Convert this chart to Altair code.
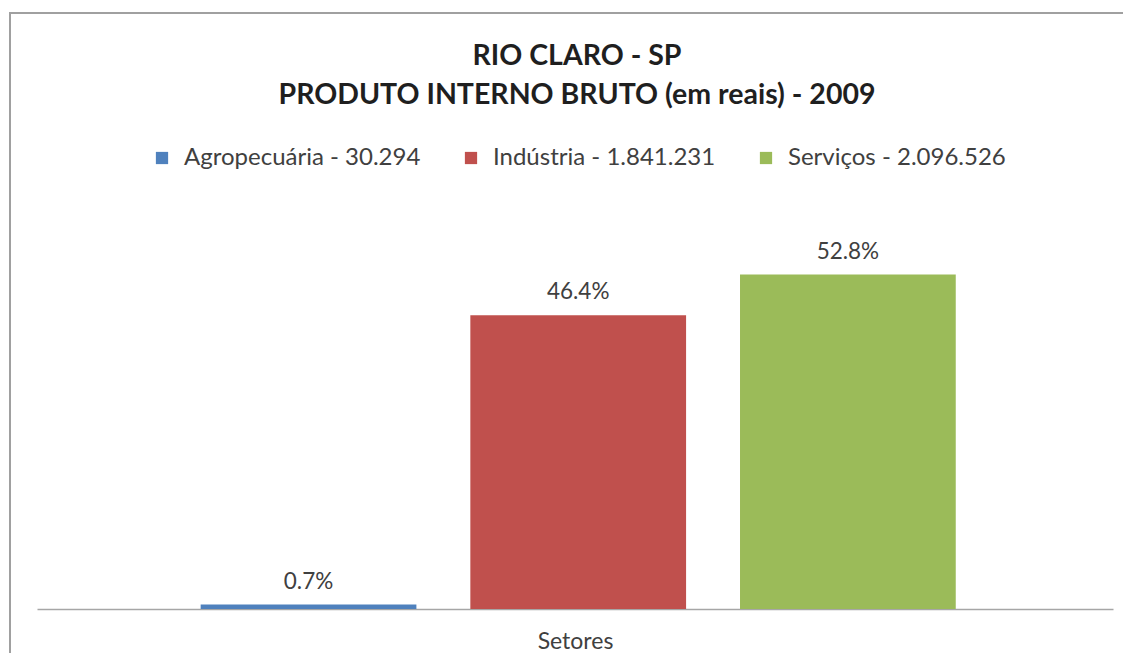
import altair as alt
import pandas as pd

sectors = ["Agropecuária", "Indústria", "Serviços"]
pib_values = ["30.294", "1.841.231", "2.096.526"]
shares = [0.7, 46.4, 52.8]
colors = ["#4F81BD", "#C0504D", "#9BBB59"]
title_lines = ["RIO CLARO - SP", "PRODUTO INTERNO BRUTO (em reais) - 2009"]

labels = [f"{s} - {v}" for s, v in zip(sectors, pib_values)]
df = pd.DataFrame({
    "setor": sectors,
    "legenda": labels,
    "share": shares,
    "rotulo": [f"{v:.1f}%" for v in shares],
})

FONT = "Lato"
W, H = 1076, 380
PAD_R = 10

base = alt.Chart(df).encode(
    x=alt.X("setor:N", sort=sectors,
            scale=alt.Scale(paddingInner=0.2, paddingOuter=0.595, align=0.51),
            axis=alt.Axis(title="Setores", labels=False, ticks=False,
                          domainColor="#A6A6A6", domainWidth=1.5,
                          titleFont=FONT, titleFontSize=23, titleFontWeight="normal",
                          titleColor="#404040", titlePadding=21)),
)

bars = base.mark_bar().encode(
    y=alt.Y("share:Q", scale=alt.Scale(domain=[0, 60]), axis=None),
    color=alt.Color("legenda:N", sort=labels,
                    scale=alt.Scale(domain=labels, range=colors),
                    legend=alt.Legend(title=None, orient="none", direction="horizontal",
                                      legendX=113, legendY=-83, padding=0,
                                      symbolType="square", symbolSize=150,
                                      symbolStrokeWidth=0, labelFont=FONT,
                                      labelFontSize=24, labelColor="#404040",
                                      labelLimit=500,
                                      labelOffset=10, columnPadding=38)),
)

text = base.mark_text(baseline="alphabetic", dy=-16, font=FONT, fontSize=22.5,
                      color="#404040").encode(
    y=alt.Y("share:Q"),
    text="rotulo:N",
)

frame_src = alt.Chart(alt.Data(values=[{"a": 1}]))
frame_top = frame_src.mark_rect(fill="#A0A0A0", strokeWidth=0).encode(
    x=alt.value(-28), x2=alt.value(W + PAD_R), y=alt.value(-217), y2=alt.value(-215),
)
frame_left = frame_src.mark_rect(fill="#A0A0A0", strokeWidth=0).encode(
    x=alt.value(-28), x2=alt.value(-26), y=alt.value(-217), y2=alt.value(H + 44),
)

chart = alt.layer(frame_top, frame_left, bars, text).properties(
    width=W, height=H,
    title=alt.TitleParams(title_lines, font=FONT, fontSize=28.5, fontWeight="bold",
                          color="#1F1F1F", anchor="middle", dx=2, offset=-97,
                          lineHeight=39),
    autosize=alt.AutoSizeParams(type="none"),
    padding={"left": 29, "top": 221, "right": PAD_R, "bottom": 44},
).configure_view(stroke=None)

chart.save("out.html", embed_options={"renderer": "svg", "actions": False})
